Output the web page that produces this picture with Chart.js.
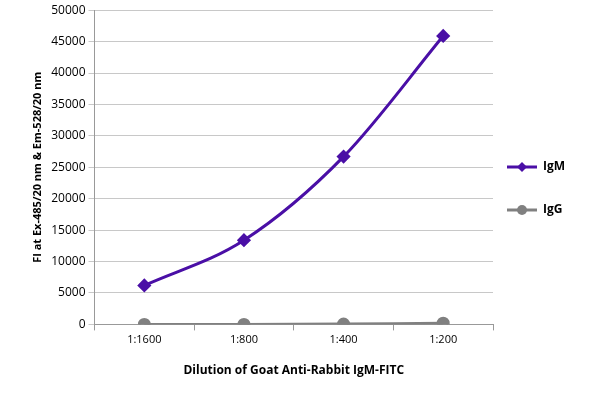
<!DOCTYPE html>
<html><head><meta charset="utf-8">
<script src="https://cdn.jsdelivr.net/npm/chart.js@4"></script>
<style>html,body{margin:0;padding:0;background:#fff}#w{width:600px;height:404px}</style>
</head><body><div id="w"><canvas id="c"></canvas></div>
<script>
const categories = ["1:1600","1:800","1:400","1:200"];
const igm = [6200, 13400, 26700, 45900];
const igg = [0, 0, 50, 200];
const yTicks = [0,5000,10000,15000,20000,25000,30000,35000,40000,45000,50000];
Chart.defaults.font.family = "'Open Sans', sans-serif";
Chart.defaults.color = "#000";
const legendPlugin = { id: 'lg', afterDraw(chart) {
  const ctx = chart.ctx; const x0 = chart.chartArea.right + 14;
  chart.data.datasets.forEach((ds, i) => {
    const y = 167 + i * 43;
    ctx.save(); ctx.strokeStyle = ds.borderColor; ctx.fillStyle = ds.borderColor; ctx.lineWidth = 3;
    ctx.beginPath(); ctx.moveTo(x0, y); ctx.lineTo(x0 + 30, y); ctx.stroke();
    ctx.beginPath();
    if (ds.pointStyle === 'rectRot') { ctx.moveTo(x0+15, y-5); ctx.lineTo(x0+20, y); ctx.lineTo(x0+15, y+5); ctx.lineTo(x0+10, y); ctx.closePath(); }
    else ctx.arc(x0 + 15, y, 5, 0, Math.PI * 2);
    ctx.fill();
    ctx.font = "bold 12px 'Open Sans', sans-serif"; ctx.textBaseline = 'middle';
    ctx.fillStyle = '#000'; ctx.fillText(ds.label, x0 + 36, y); ctx.restore();
  });
}};
new Chart(document.getElementById('c'), {
  type: 'line',
  data: { labels: categories, datasets: [
    { label: 'IgM', data: igm, borderColor: '#4a0fa6', backgroundColor: '#4a0fa6', borderWidth: 3,
      pointStyle: 'rectRot', pointRadius: 5, tension: 0.3, cubicInterpolationMode: 'monotone' },
    { label: 'IgG', data: igg, borderColor: '#808080', backgroundColor: '#808080', borderWidth: 3,
      pointStyle: 'circle', pointRadius: 5, tension: 0.3 }
  ]},
  plugins: [legendPlugin],
  options: {
    responsive: true, maintainAspectRatio: false, animation: false,
    layout: { padding: { top: 8, right: 107, bottom: 22, left: 27 } },
    plugins: { legend: { display: false }, tooltip: { enabled: false } },
    scales: {
      x: { offset: true, grid: { display: true, drawOnChartArea: false, offset: true, color: '#999', tickLength: 6 },
        border: { color: '#999' },
        ticks: { font: { size: 11 } },
        title: { display: true, text: 'Dilution of Goat Anti-Rabbit IgM-FITC', font: { size: 12, weight: 'bold' }, padding: { top: 14 } } },
      y: { min: 0, max: 50000, afterBuildTicks: a => { a.ticks = yTicks.map(v => ({ value: v })); },
        grid: { color: '#c8c8c8', tickLength: 6 }, border: { color: '#999' },
        ticks: { font: { size: 12 }, callback: v => String(v) },
        title: { display: true, text: 'FI at Ex-485/20 nm & Em-528/20 nm', font: { size: 11, weight: 'bold' } } }
    }
  }
});
</script></body></html>
